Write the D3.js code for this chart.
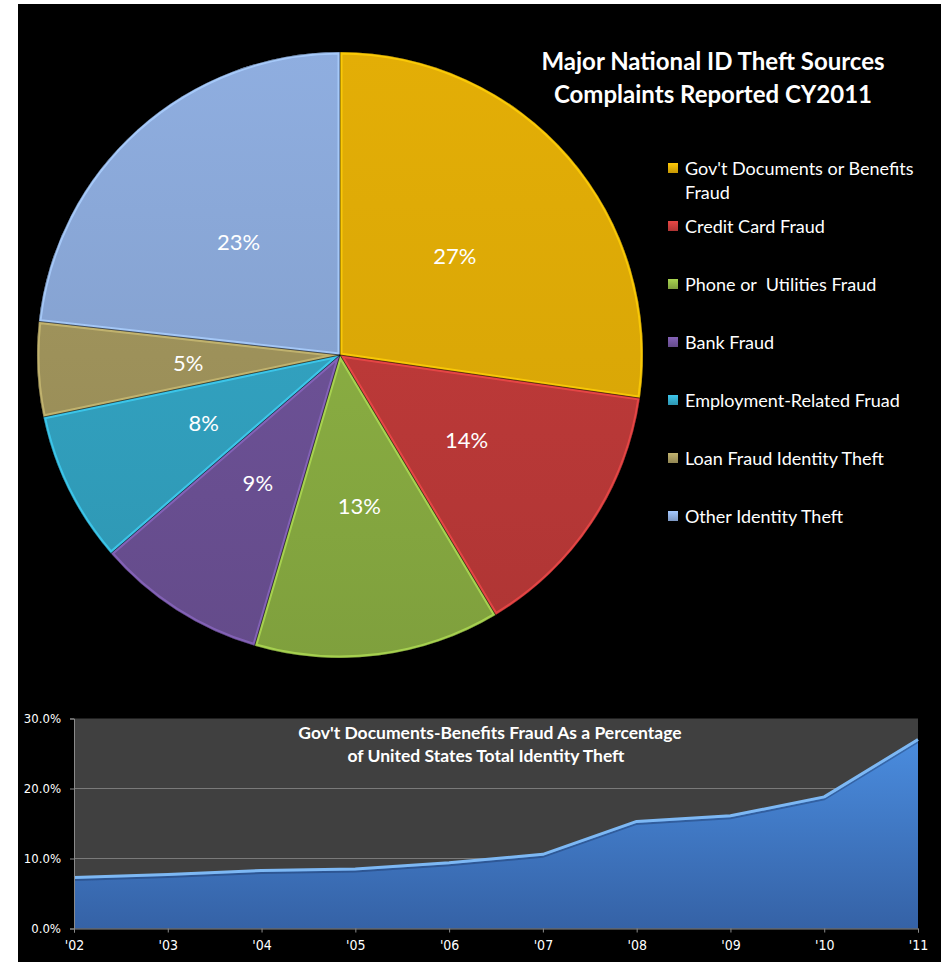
<!DOCTYPE html>
<html>
<head>
<meta charset="utf-8">
<script src="https://cdn.jsdelivr.net/npm/d3@7"></script>
<style>
  body { margin: 0; background: #fff; }
  text { white-space: pre; }
</style>
</head>
<body>
<svg id="chart" width="941" height="962"></svg>
<script>
// ID theft complaint sources, CY2011 (percent of total)
const sources = [
  "Gov't Documents or Benefits Fraud",
  "Credit Card Fraud",
  "Phone or  Utilities Fraud",
  "Bank Fraud",
  "Employment-Related Fruad",
  "Loan Fraud Identity Theft",
  "Other Identity Theft"
];
const shares = [27, 14, 13, 9, 8, 5, 23];
const sliceColors = ["#dba806", "#c23b3a", "#8db244", "#6f539a", "#33a6c5", "#a2965d", "#8aa8d8"];

// Gov't documents / benefits fraud share of all US identity theft, by year
const years = ["'02", "'03", "'04", "'05", "'06", "'07", "'08", "'09", "'10", "'11"];
const govDocPct = [7.3, 7.7, 8.3, 8.5, 9.4, 10.6, 15.3, 16.1, 18.8, 27.0];
const pctTicks = [0, 10, 20, 30];

const svg = d3.select("#chart");
const defs = svg.append("defs");

svg.append("rect").attr("x", 18).attr("y", 4).attr("width", 923).attr("height", 958).attr("fill", "#000");

// ---------- Pie ----------
const cx = 340, cy = 355, R = 303;
const pieG = svg.append("g").attr("transform", `translate(${cx},${cy})`);

sliceColors.forEach((c, i) => {
  const g = defs.append("linearGradient")
    .attr("id", "slice" + i).attr("gradientUnits", "userSpaceOnUse")
    .attr("x1", 0).attr("y1", -R).attr("x2", 0).attr("y2", R);
  g.append("stop").attr("offset", "0%").attr("stop-color", d3.color(c).brighter(0.1));
  g.append("stop").attr("offset", "100%").attr("stop-color", d3.color(c).darker(i === 0 ? 0.1 : 0.3));
  const lg = defs.append("linearGradient")
    .attr("id", "key" + i).attr("x1", 0).attr("y1", 0).attr("x2", 0).attr("y2", 1);
  lg.append("stop").attr("offset", "0%").attr("stop-color", d3.color(c).brighter(0.5));
  lg.append("stop").attr("offset", "100%").attr("stop-color", d3.color(c).darker(0.3));
});

const pie = d3.pie().sort(null).value(d => d);
const arcs = pie(shares);
const arc = d3.arc().innerRadius(0).outerRadius(R);
const labelArc = d3.arc().innerRadius(152).outerRadius(152);

arcs.forEach((d, i) => {
  defs.append("clipPath").attr("id", "clip" + i).append("path").attr("d", arc(d));
});

pieG.selectAll("path.slice").data(arcs).join("path")
  .attr("class", "slice")
  .attr("d", arc)
  .attr("fill", (d, i) => `url(#slice${i})`);

// soft inner bevel along every slice edge
pieG.selectAll("path.bevel").data(arcs).join("path")
  .attr("class", "bevel")
  .attr("d", arc)
  .attr("clip-path", (d, i) => `url(#clip${i})`)
  .attr("fill", "none")
  .attr("stroke", (d, i) => d3.color(sliceColors[i]).brighter(0.6))
  .attr("stroke-opacity", 0.8)
  .attr("stroke-width", 5)
  .attr("stroke-linejoin", "round");

// thin dark seams between slices
pieG.selectAll("path.seam").data(arcs).join("path")
  .attr("class", "seam")
  .attr("d", arc)
  .attr("fill", "none")
  .attr("stroke", "rgba(0,0,0,0.4)")
  .attr("stroke-width", 0.8);

pieG.selectAll("text.pct").data(arcs).join("text")
  .attr("class", "pct")
  .attr("transform", d => `translate(${labelArc.centroid(d)})`)
  .attr("text-anchor", "middle")
  .attr("dominant-baseline", "central")
  .attr("font-family", "Lato, 'Open Sans', sans-serif")
  .attr("font-size", 22)
  .attr("fill", "#fff")
  .text(d => d.data + "%");

// ---------- Title ----------
const title = svg.append("g")
  .attr("font-family", "Lato, 'Open Sans', sans-serif")
  .attr("font-weight", "bold").attr("font-size", 24).attr("fill", "#fff")
  .attr("text-anchor", "middle");
title.append("text").attr("x", 713).attr("y", 70).text("Major National ID Theft Sources");
title.append("text").attr("x", 713).attr("y", 103).text("Complaints Reported CY2011");

// ---------- Legend ----------
const legend = svg.append("g")
  .attr("font-family", "Lato, 'Open Sans', sans-serif")
  .attr("font-size", 18).attr("fill", "#fff");
sources.forEach((name, i) => {
  const yb = 175 + i * 58;
  legend.append("rect")
    .attr("x", 668).attr("y", yb - 12).attr("width", 10).attr("height", 10)
    .attr("fill", `url(#key${i})`);
  const t = legend.append("text").attr("x", 685).attr("y", yb);
  // wrap to the legend column width
  const words = name.split(" ");
  let line = [];
  let tspan = t.append("tspan").attr("x", 685).attr("dy", 0);
  words.forEach(w => {
    line.push(w);
    tspan.text(line.join(" "));
    if (tspan.node().getComputedTextLength() > 248 && line.length > 1) {
      line.pop();
      tspan.text(line.join(" "));
      line = [w];
      tspan = t.append("tspan").attr("x", 685).attr("dy", 24).text(w);
    }
  });
});

// ---------- Area chart ----------
const x = d3.scalePoint().domain(years).range([74, 918]);
const y = d3.scaleLinear().domain([0, 30]).range([928.5, 718.5]);

svg.append("rect")
  .attr("x", x.range()[0]).attr("y", y(30))
  .attr("width", x.range()[1] - x.range()[0]).attr("height", y(0) - y(30))
  .attr("fill", "#404040");

svg.append("g").selectAll("line").data(pctTicks.filter(v => v > 0 && v < 30)).join("line")
  .attr("x1", x.range()[0]).attr("x2", x.range()[1])
  .attr("y1", d => y(d)).attr("y2", d => y(d))
  .attr("stroke", "#7a7a7a").attr("stroke-width", 1);

const ag = defs.append("linearGradient").attr("id", "areaFill")
  .attr("gradientUnits", "userSpaceOnUse")
  .attr("x1", 0).attr("y1", y(27)).attr("x2", 0).attr("y2", y(0));
ag.append("stop").attr("offset", "0%").attr("stop-color", "#4a8cde");
ag.append("stop").attr("offset", "100%").attr("stop-color", "#3562a6");

const area = d3.area().x((d, i) => x(years[i])).y0(y(0)).y1(d => y(d));
const topLine = d3.line().x((d, i) => x(years[i])).y(d => y(d));

svg.append("path").datum(govDocPct).attr("d", area).attr("fill", "url(#areaFill)");
svg.append("path").datum(govDocPct).attr("d", topLine)
  .attr("transform", "translate(0,2.5)")
  .attr("fill", "none").attr("stroke", "rgba(20,40,80,0.35)").attr("stroke-width", 2);
svg.append("path").datum(govDocPct).attr("d", topLine)
  .attr("fill", "none").attr("stroke", "#7db8f4").attr("stroke-width", 3)
  .attr("stroke-linejoin", "round");

const axisFont = "'DejaVu Sans Condensed', 'DejaVu Sans', sans-serif";
const yAxis = svg.append("g").attr("transform", `translate(${x.range()[0]},0)`)
  .call(d3.axisLeft(y).tickValues(pctTicks).tickFormat(d => d.toFixed(1) + "%").tickSize(4).tickPadding(9));
const xAxis = svg.append("g").attr("transform", `translate(0,${y(0)})`)
  .call(d3.axisBottom(x).tickSize(4).tickPadding(8));
[yAxis, xAxis].forEach(a => {
  a.attr("font-family", axisFont).attr("font-size", 13);
  a.select(".domain").attr("stroke", "#8a8a8a");
  a.selectAll(".tick line").attr("stroke", "#8a8a8a");
  a.selectAll("text").attr("fill", "#fff");
});
xAxis.attr("font-size", 14);

const sub = svg.append("g")
  .attr("font-family", "Lato, 'Open Sans', sans-serif")
  .attr("font-weight", "bold").attr("font-size", 17.5).attr("fill", "#fff")
  .attr("text-anchor", "middle");
sub.append("text").attr("x", 490).attr("y", 739).text("Gov't Documents-Benefits Fraud As a Percentage");
sub.append("text").attr("x", 486).attr("y", 762).text("of United States Total Identity Theft");
</script>
</body>
</html>
